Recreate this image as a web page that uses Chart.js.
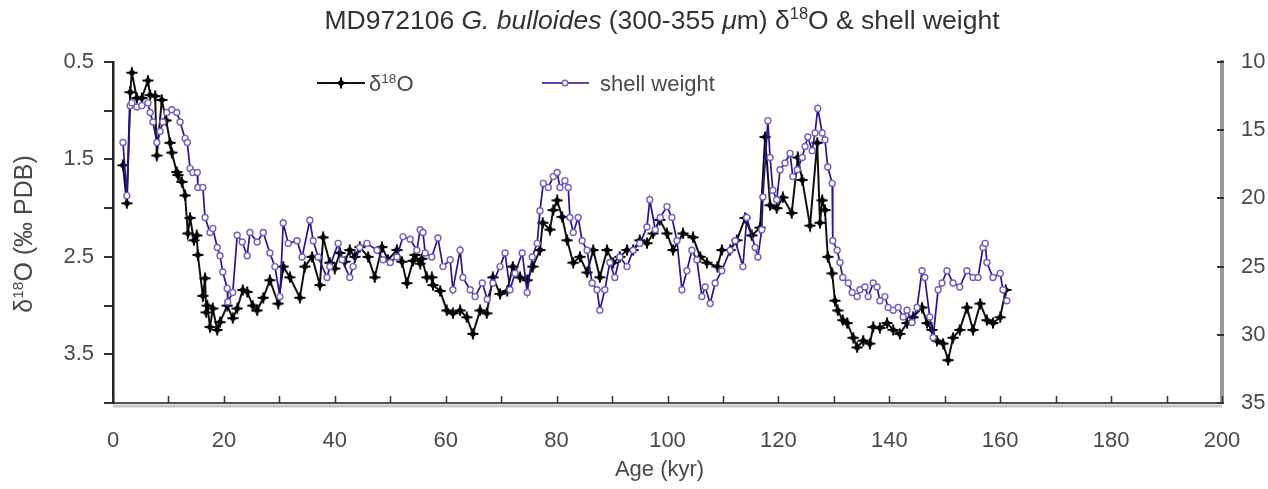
<!DOCTYPE html>
<html>
<head>
<meta charset="utf-8">
<script src="https://cdn.jsdelivr.net/npm/chart.js@4.4.1/dist/chart.umd.min.js"></script>
<style>
  html, body { margin: 0; padding: 0; background: #fff; }
  #wrap { width: 1268px; height: 489px; }
</style>
</head>
<body>
<div id="wrap"><canvas id="c" width="1268" height="489"></canvas></div>
<script>
// δ18O record (age in kyr, value in ‰ PDB)
const ageD18O = [
  1.8, 2.5, 3.1, 3.4, 4.3, 5.2, 6.3, 6.7, 7.6, 7.9, 8.8, 9.6, 10.3, 10.6, 11.5, 11.7, 12.4, 13.0, 13.5, 13.9,
  14.6, 15.1, 15.3, 16.2, 16.6, 16.8, 17.0, 17.5, 18.0, 18.8, 19.3, 20.6, 21.6, 22.4, 23.4, 24.2, 25.2, 26.0, 27.1, 28.3,
  29.8, 30.7, 31.9, 33.7, 34.6, 35.9, 37.3, 37.9, 39.1, 40.0, 40.9, 41.8, 42.7, 43.6, 44.5, 46.0, 47.2, 48.5, 49.6, 51.2,
  52.1, 53.0, 54.1, 54.5, 55.4, 55.7, 56.6, 57.5, 57.7, 59.0, 60.2, 61.3, 62.6, 63.8, 64.9, 66.2, 67.4, 68.5, 69.8, 71.1,
  72.1, 73.4, 74.7, 75.7, 77.0, 77.5, 78.8, 79.4, 80.1, 81.0, 81.9, 83.0, 84.2, 85.5, 86.6, 87.8, 89.1, 90.2, 91.4, 92.7,
  93.8, 95.0, 96.3, 97.4, 98.6, 99.9, 101.0, 102.8, 104.6, 105.9, 107.1, 109.0, 109.8, 111.3, 112.5, 114.0, 115.2, 116.7, 117.6, 118.5,
  119.7, 120.8, 122.4, 123.5, 124.3, 125.7, 127.0, 127.5, 127.9, 128.4, 128.9, 129.7, 130.2, 130.7, 131.6, 132.4, 133.5, 134.2, 135.3, 136.5,
  137.1, 138.3, 139.6, 140.7, 141.9, 143.2, 144.3, 145.9, 146.8, 147.7, 148.6, 149.7, 150.6, 151.5, 152.7, 154.0, 155.1, 156.4, 157.6, 158.7,
  160.0, 161.0
];
const valD18O = [
  1.56, 1.95, 0.81, 0.61, 0.87, 0.87, 0.69, 0.84, 0.85, 1.46, 0.89, 1.10, 1.33, 1.43, 1.63, 1.66, 1.73, 1.87, 2.26, 2.10,
  2.33, 2.28, 2.48, 2.90, 2.72, 3.07, 3.00, 3.22, 3.03, 3.25, 3.17, 3.00, 3.13, 3.03, 2.84, 2.86, 3.00, 3.05, 2.92, 2.74,
  2.98, 2.60, 2.71, 2.92, 2.60, 2.50, 2.79, 2.30, 2.56, 2.62, 2.46, 2.55, 2.43, 2.50, 2.40, 2.50, 2.71, 2.40, 2.53, 2.43,
  2.55, 2.77, 2.54, 2.48, 2.57, 2.52, 2.71, 2.71, 2.79, 2.85, 3.05, 3.08, 3.05, 3.12, 3.29, 3.05, 3.08, 2.71, 2.88, 2.85,
  2.60, 2.71, 2.74, 2.60, 2.43, 2.15, 2.22, 2.02, 1.92, 2.09, 2.33, 2.56, 2.50, 2.66, 2.43, 2.71, 2.43, 2.56, 2.50, 2.43,
  2.43, 2.33, 2.36, 2.26, 2.12, 2.26, 2.43, 2.26, 2.30, 2.50, 2.56, 2.60, 2.43, 2.43, 2.33, 2.10, 2.28, 2.20, 1.27, 1.97,
  2.00, 1.89, 2.05, 1.48, 1.71, 2.18, 1.33, 2.15, 1.92, 2.02, 2.50, 2.67, 2.95, 3.05, 3.15, 3.18, 3.33, 3.43, 3.36, 3.39,
  3.22, 3.23, 3.18, 3.25, 3.29, 3.18, 3.12, 3.02, 3.18, 3.25, 3.36, 3.39, 3.56, 3.33, 3.25, 3.02, 3.25, 2.98, 3.15, 3.18,
  3.12, 2.84
];

// shell weight record (age in kyr, weight in µg)
const ageShell = [
  1.8, 2.5, 3.1, 3.4, 4.3, 5.2, 6.3, 6.7, 7.2, 7.9, 8.5, 9.0, 9.7, 10.6, 11.5, 12.1, 13.0, 13.4, 13.9, 14.4,
  15.2, 15.3, 16.2, 16.6, 17.5, 18.0, 18.8, 19.3, 19.8, 20.6, 20.7, 21.6, 22.4, 23.3, 24.2, 24.7, 26.0, 27.1, 28.3, 29.2,
  30.1, 30.7, 31.6, 33.2, 34.1, 35.5, 36.1, 37.0, 38.6, 39.1, 40.6, 41.3, 42.7, 43.3, 44.5, 45.8, 47.6, 48.7, 50.0, 51.2,
  52.3, 53.6, 54.8, 55.4, 55.9, 56.3, 57.5, 58.6, 59.5, 60.8, 61.3, 62.6, 63.1, 64.4, 65.3, 66.6, 67.5, 68.5, 69.8, 70.7,
  71.6, 72.5, 73.8, 74.7, 75.6, 76.5, 77.0, 77.6, 78.5, 79.4, 80.1, 80.6, 81.5, 82.1, 82.4, 83.0, 83.9, 84.6, 85.5, 86.4,
  87.3, 87.8, 88.7, 89.6, 90.5, 91.4, 92.7, 93.8, 95.0, 96.3, 96.8, 97.8, 98.7, 99.9, 100.8, 101.7, 102.6, 103.5, 104.4, 105.3,
  106.2, 106.8, 107.7, 108.6, 109.8, 111.3, 112.2, 113.6, 114.3, 115.8, 116.3, 117.0, 117.2, 118.1, 118.5, 119.0, 119.7, 120.3, 121.2, 122.1,
  122.6, 123.4, 124.3, 124.8, 125.3, 126.1, 126.6, 127.1, 127.9, 128.4, 128.9, 129.7, 129.8, 130.6, 131.1, 131.6, 132.6, 133.3, 134.2, 134.7,
  135.6, 136.2, 137.1, 137.8, 138.3, 139.2, 139.8, 140.7, 141.6, 142.5, 143.2, 144.1, 145.0, 145.9, 146.4, 147.3, 147.9, 148.8, 149.5, 150.4,
  151.5, 152.7, 154.0, 155.1, 156.0, 156.9, 157.3, 157.6, 158.7, 160.0, 160.5, 161.2
];
const valShell = [
  15.9, 19.8, 13.2, 13.0, 13.3, 13.2, 13.0, 13.7, 14.4, 15.9, 15.1, 14.4, 13.7, 13.5, 13.7, 14.4, 15.6, 15.9, 17.8, 18.1,
  18.1, 19.2, 19.2, 21.4, 22.5, 22.2, 23.6, 24.2, 25.4, 26.6, 27.6, 26.9, 22.7, 23.2, 24.2, 22.5, 23.2, 22.5, 24.0, 25.0,
  27.2, 21.8, 23.3, 23.1, 24.3, 21.6, 23.1, 24.3, 25.8, 25.0, 23.3, 24.5, 25.8, 25.0, 23.6, 23.3, 23.8, 24.5, 24.7, 24.3,
  22.8, 23.0, 23.8, 22.3, 22.5, 24.0, 24.3, 22.9, 25.0, 24.5, 26.7, 23.8, 25.8, 26.7, 27.2, 26.2, 27.4, 26.2, 25.0, 24.0,
  26.7, 25.5, 24.0, 26.9, 24.3, 23.3, 20.9, 18.9, 19.2, 18.4, 18.1, 19.2, 18.7, 19.2, 21.4, 22.5, 21.4, 23.1, 23.8, 26.2,
  26.7, 28.2, 26.7, 24.7, 25.8, 24.3, 25.0, 23.8, 23.3, 22.1, 20.1, 22.3, 21.4, 20.6, 21.4, 23.1, 26.7, 25.3, 23.8, 24.5,
  27.2, 26.5, 27.7, 26.2, 25.3, 23.8, 23.1, 25.0, 21.4, 23.6, 24.3, 22.3, 19.9, 14.3, 17.0, 19.4, 20.1, 17.9, 17.4, 16.7,
  18.4, 17.9, 17.0, 16.2, 15.5, 16.5, 15.2, 13.4, 15.2, 15.7, 17.7, 18.9, 23.1, 23.8, 24.7, 25.8, 26.2, 26.9, 27.2, 26.7,
  26.5, 27.2, 26.2, 26.5, 27.5, 27.2, 28.0, 28.2, 28.0, 28.7, 28.2, 29.1, 28.0, 25.3, 25.8, 28.7, 30.2, 26.7, 26.2, 25.3,
  26.2, 26.5, 25.3, 25.8, 25.8, 23.6, 23.3, 24.7, 25.8, 25.5, 26.7, 27.5
];

const ageTicks = [0, 200, 10];           // min, max, step
const d18OTicks = [0.5, 4.0, 0.5];
const shellTicks = [10, 35, 5];

const FONT = '"Liberation Sans", Arial, Helvetica, sans-serif';
const TEXT = '#4a4a4a';
const BLUE = '#24168f';
const BLUE_PT = '#6e63c2';

function plusMarker() {
  const c = document.createElement('canvas');
  c.width = 12; c.height = 12;
  const g = c.getContext('2d');
  g.strokeStyle = '#000';
  g.lineWidth = 2;
  g.beginPath();
  g.moveTo(6, 0.5); g.lineTo(6, 11.5);
  g.moveTo(0.5, 6); g.lineTo(11.5, 6);
  g.stroke();
  g.fillStyle = '#000';
  g.beginPath();
  g.moveTo(6, 2); g.lineTo(10, 6); g.lineTo(6, 10); g.lineTo(2, 6);
  g.closePath();
  g.fill();
  return c;
}
const marker = plusMarker();

// text made of normal / italic / superscript pieces
function richWidth(ctx, segs, size) {
  let w = 0;
  segs.forEach(s => {
    ctx.font = `${s.it ? 'italic ' : ''}${s.sup ? size * 0.62 : size}px ${FONT}`;
    w += ctx.measureText(s.t).width;
  });
  return w;
}
function drawRich(ctx, segs, x, y, size) {
  segs.forEach(s => {
    ctx.font = `${s.it ? 'italic ' : ''}${s.sup ? size * 0.62 : size}px ${FONT}`;
    ctx.fillText(s.t, x, s.sup ? y - size * 0.38 : y);
    x += ctx.measureText(s.t).width;
  });
}

const titleSegs = [
  { t: 'MD972106 ' }, { t: 'G. bulloides', it: true }, { t: ' (300-355 ' },
  { t: 'μ', it: true }, { t: 'm) δ' }, { t: '18', sup: true }, { t: 'O & shell weight' }
];
const yTitleSegs = [{ t: 'δ' }, { t: '18', sup: true }, { t: 'O (‰ PDB)' }];
const legD18OSegs = [{ t: 'δ' }, { t: '18', sup: true }, { t: 'O' }];

const decor = {
  id: 'decor',
  afterDraw(chart) {
    const { ctx, chartArea: a, scales } = chart;
    const x = scales.x, y2 = scales.y2;
    ctx.save();

    // light shadow under the x axis
    ctx.strokeStyle = '#c8c8c8';
    ctx.lineWidth = 3;
    ctx.beginPath();
    ctx.moveTo(a.left, a.bottom + 3);
    ctx.lineTo(a.right, a.bottom + 3);
    ctx.stroke();

    // inner ticks on age axis
    ctx.strokeStyle = '#333';
    ctx.lineWidth = 1.5;
    x.ticks.forEach(t => {
      const px = Math.round(x.getPixelForValue(t.value)) + 0.5;
      ctx.beginPath();
      ctx.moveTo(px, a.bottom);
      ctx.lineTo(px, a.bottom - 7);
      ctx.stroke();
    });
    // ticks on right axis
    ctx.lineWidth = 2;
    y2.ticks.forEach(t => {
      const py = Math.round(y2.getPixelForValue(t.value));
      ctx.beginPath();
      ctx.moveTo(a.right - 5, py);
      ctx.lineTo(a.right + 2, py);
      ctx.stroke();
    });

    ctx.fillStyle = '#333';
    ctx.textBaseline = 'alphabetic';
    ctx.textAlign = 'left';

    // title
    const ts = 26.5;
    const tw = richWidth(ctx, titleSegs, ts);
    drawRich(ctx, titleSegs, 662 - tw / 2, 29, ts);

    // axis titles
    ctx.fillStyle = TEXT;
    ctx.font = `22px ${FONT}`;
    ctx.textAlign = 'center';
    ctx.fillText('Age (kyr)', (a.left + a.right) / 2 - 8, 476);
    ctx.textAlign = 'left';
    ctx.save();
    ctx.translate(32, 234);
    ctx.rotate(-Math.PI / 2);
    const yw = richWidth(ctx, yTitleSegs, 25);
    drawRich(ctx, yTitleSegs, -yw / 2, 0, 25);
    ctx.restore();

    // legend
    const ly = 83;
    ctx.strokeStyle = '#111';
    ctx.lineWidth = 2;
    ctx.beginPath(); ctx.moveTo(317, ly); ctx.lineTo(365, ly); ctx.stroke();
    ctx.drawImage(marker, 341 - 6, ly - 6);
    drawRich(ctx, legD18OSegs, 369, ly + 8, 22);

    ctx.strokeStyle = '#5546ad';
    ctx.beginPath(); ctx.moveTo(542, ly); ctx.lineTo(589, ly); ctx.stroke();
    ctx.fillStyle = '#fff';
    ctx.strokeStyle = BLUE_PT;
    ctx.lineWidth = 1.4;
    ctx.beginPath(); ctx.arc(565, ly, 2.8, 0, Math.PI * 2); ctx.fill(); ctx.stroke();
    ctx.fillStyle = TEXT;
    ctx.font = `22px ${FONT}`;
    ctx.fillText('shell weight', 600, ly + 8);

    ctx.restore();
  }
};

const tickFont = { family: FONT, size: 22 };

new Chart(document.getElementById('c'), {
  type: 'line',
  data: {
    datasets: [
      {
        label: 'δ18O',
        data: ageD18O.map((v, i) => ({ x: v, y: valD18O[i] })),
        yAxisID: 'y',
        borderColor: '#111',
        borderWidth: 2,
        pointStyle: marker,
        pointRadius: 5,
        tension: 0,
        order: 1
      },
      {
        label: 'shell weight',
        data: ageShell.map((v, i) => ({ x: v, y: valShell[i] })),
        yAxisID: 'y2',
        borderColor: BLUE,
        borderWidth: 1.7,
        pointStyle: 'circle',
        pointRadius: 3,
        pointBorderWidth: 1.4,
        pointBorderColor: BLUE_PT,
        pointBackgroundColor: '#fff',
        tension: 0,
        order: 0
      }
    ]
  },
  options: {
    responsive: false,
    animation: false,
    layout: { padding: { top: 62, left: 0, right: 0, bottom: 0 } },
    plugins: {
      legend: { display: false },
      title: { display: false },
      tooltip: { enabled: false }
    },
    scales: {
      x: {
        type: 'linear',
        min: ageTicks[0], max: ageTicks[1],
        afterFit(s) { s.height = 86; },
        grid: { display: false, drawTicks: false },
        border: { display: true, color: '#555', width: 2 },
        ticks: {
          stepSize: ageTicks[2],
          autoSkip: false,
          maxRotation: 0,
          padding: 25,
          color: TEXT,
          font: tickFont,
          callback: v => (v % 20 === 0 ? String(v) : '')
        }
      },
      y: {
        position: 'left',
        reverse: true,
        min: d18OTicks[0], max: d18OTicks[1],
        afterFit(s) { s.width = 113; },
        grid: { display: true, drawOnChartArea: false, drawTicks: true, tickLength: 9, color: '#333', lineWidth: 2 },
        border: { display: true, color: '#222', width: 2.5 },
        ticks: {
          stepSize: d18OTicks[2],
          autoSkip: false,
          padding: 10,
          color: TEXT,
          font: tickFont,
          callback: v => (Math.abs(((v - 0.5) % 1)) < 1e-6 && v < 3.9 ? v.toFixed(1) : '')
        }
      },
      y2: {
        position: 'right',
        reverse: true,
        min: shellTicks[0], max: shellTicks[1],
        afterFit(s) { s.width = 46; },
        grid: { display: false, drawTicks: false },
        border: { display: true, color: '#9a9a9a', width: 4 },
        ticks: {
          stepSize: shellTicks[2],
          autoSkip: false,
          padding: 19,
          color: TEXT,
          font: tickFont
        }
      }
    }
  },
  plugins: [decor]
});
</script>
</body>
</html>
